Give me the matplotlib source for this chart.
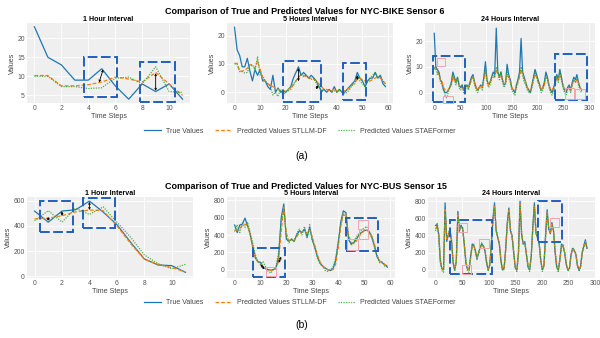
import numpy as np
import matplotlib
matplotlib.use("Agg")
import matplotlib.pyplot as plt
from matplotlib.patches import Rectangle

plt.rcParams['font.family'] = ['Liberation Sans', 'DejaVu Sans']

# --- NYC-BIKE Sensor 6 ---
# 5-hour horizon, 60 steps (the 1-hour panel shows the first 12)
bike_true_5h = [23, 15, 13, 9, 9, 12, 7.5, 4, 8, 6, 8, 4,
                4, 2, 1, 6, 0, 1.5, 0, 0.5, 0, 1, 2, 5,
                7, 9, 6, 7, 6, 5, 6, 5, 4, 2, 0.5, 1,
                0, 1, 0, 2, 0, 1, 0, 0, 1, 2, 3, 4,
                7, 5, 4, 2, 4, 5, 5, 7, 5, 6, 3, 2]
bike_stllm_5h = [10.2, 10.2, 7.5, 7.5, 7.8, 8.5, 9.8, 9.3, 8.5, 11, 8, 5,
                 4, 3, 2.5, 2, 1.5, 1, 0.5, 0.5, 0.5, 1, 1.5, 2.5,
                 4, 5.5, 6, 6, 5.5, 5, 5, 4.5, 4, 3, 2, 1,
                 1, 0.5, 0.5, 1, 0.5, 0.5, 0.5, 0.5, 1, 1.5, 2.5, 3.5,
                 4.5, 5, 4.5, 4, 3.5, 4, 4.5, 5, 5.5, 5, 4, 3]
bike_stae_5h = [10, 10, 7.3, 7.3, 6.8, 7, 9.5, 9.8, 8, 12.5, 6, 5.8,
                4, 3, 2, -1, 0, -1.5, 1, -1, 0, 0.5, 1, 3,
                4, 5, 6.5, 5.5, 6, 5, 4.5, 5, 3, 2, 0, 1,
                0, 1, 0, 0.5, 0, 1, 0, -0.5, 0, 1, 2.5, 3,
                6, 4, 3, 2, 3.5, 5, 6, 7, 5, 6, 4, 3]

# 24-hour horizon, read every 3rd step (0..285)
bike_true_24h = [23, 10, 9, 8, 5, 4, 1, 0, 0, 1, 2, 4,
                 8, 6, 4, 6, 3, 2, 3, 1, 2, 3, 2, 4,
                 6, 7, 4, 2, 1, 2, 3, 2, 6, 12, 5, 3,
                 4, 6, 8, 7, 25, 8, 6, 8, 5, 3, 4, 11,
                 7, 5, 2, 1, 0, 3, 5, 8, 21, 8, 6, 4,
                 2, 1, 0, 3, 6, 9, 7, 5, 3, 1, 2, 4,
                 8, 6, 3, 1, 0, 2, 4, 7, 5, 9, 6, 3,
                 1, 0, 2, 3, 1, 4, 6, 5, 7, 4, 2, 1]
bike_stllm_24h = [10, 9, 8, 7, 5, 4, 2, 1, 0.5, 1, 2, 3,
                  6, 5, 4, 5, 3, 2, 2, 1, 2, 3, 2, 3,
                  5, 6, 4, 2, 1, 2, 3, 2, 5, 8, 5, 3,
                  4, 5, 6, 6, 9, 7, 6, 7, 5, 3, 4, 7,
                  6, 5, 2, 1, 1, 2, 4, 6, 9, 7, 5, 4,
                  2, 1, 1, 2, 5, 7, 6, 4, 3, 1, 2, 3,
                  6, 5, 3, 1, 1, 2, 3, 6, 5, 7, 5, 3,
                  1, 1, 2, 2, 1, 3, 5, 4, 5, 4, 2, 1]
bike_stae_24h = [9, 10, 7, 8, 4, 3, 1, -1, -2, 0, 2, 3,
                 7, 5, 3, 6, 2, 1, 3, 0, 1, 3, 1, 3,
                 6, 6, 3, 1, 0, 2, 2, 1, 6, 9, 4, 2,
                 3, 6, 7, 6, 10, 8, 5, 8, 4, 2, 3, 8,
                 6, 4, 1, 0, -1, 2, 5, 7, 10, 7, 4, 3,
                 1, 0, 0, 2, 5, 8, 6, 4, 2, 0, 1, 3,
                 7, 5, 2, 0, -1, 1, 3, 7, 4, 8, 5, 2,
                 0, -1, 1, 2, 0, 3, 5, 4, 6, 3, 1, 0]

# --- NYC-BUS Sensor 15 ---
bus_true_5h = [517, 429, 517, 527, 596, 509, 410, 270, 138, 90, 85, 32,
               10, 0, -5, 0, 20, 150, 600, 760, 350, 330, 350, 330,
               400, 450, 430, 470, 380, 490, 350, 250, 150, 80, 40, 20,
               0, -10, 10, 100, 300, 550, 680, 660, 350, 300, 310, 350,
               400, 430, 450, 460, 440, 380, 280, 150, 100, 80, 60, 30]
bus_stllm_5h = [455, 460, 480, 510, 525, 520, 400, 260, 135, 95, 70, 35,
                15, 0, -10, -5, 10, 100, 450, 720, 420, 340, 340, 340,
                380, 430, 440, 450, 420, 460, 380, 270, 170, 90, 40, 15,
                0, -10, 0, 60, 250, 500, 650, 640, 400, 320, 300, 330,
                380, 420, 450, 460, 440, 390, 300, 170, 100, 80, 60, 40]
bus_stae_5h = [440, 520, 430, 540, 490, 550, 430, 310, 170, 100, 60, 95,
               30, -20, -40, 10, 40, 200, 550, 700, 380, 310, 360, 320,
               420, 470, 400, 500, 360, 520, 330, 280, 130, 60, 50, -10,
               -20, 0, 30, 130, 320, 520, 640, 620, 380, 280, 320, 380,
               420, 460, 480, 500, 430, 360, 260, 170, 80, 90, 40, 50]

bus_true_24h = [517, 527, 410, 90, 10, 0, 780, 330, 400, 470, 350, 80,
                0, 100, 680, 450, 520, 480, 300, 80, 10, 0, 150, 300,
                280, 220, 120, 200, 260, 300, 280, 220, 80, 0, 60, 300,
                600, 780, 450, 380, 300, 100, 0, 20, 250, 550, 720, 450,
                400, 200, 20, 0, 200, 800, 400, 300, 320, 180, 30, 0,
                150, 500, 780, 420, 380, 300, 100, 0, 50, 400, 700, 480,
                420, 550, 450, 200, 30, 0, 120, 300, 280, 200, 60, 0,
                20, 180, 250, 230, 180, 50, 0, 40, 200, 280, 350, 250]
bus_stllm_24h = [470, 510, 420, 110, 20, 0, 700, 360, 400, 450, 340, 90,
                 10, 90, 640, 470, 500, 470, 310, 100, 20, 0, 130, 280,
                 280, 230, 140, 190, 250, 290, 280, 230, 100, 10, 50, 280,
                 570, 740, 470, 390, 300, 120, 10, 20, 230, 520, 690, 460,
                 390, 210, 40, 0, 180, 760, 420, 310, 310, 190, 50, 10,
                 140, 470, 740, 440, 380, 300, 120, 10, 40, 380, 670, 490,
                 420, 530, 450, 220, 50, 0, 110, 280, 270, 200, 70, 10,
                 20, 170, 240, 230, 180, 60, 10, 40, 190, 270, 330, 250]
bus_stae_24h = [450, 540, 390, 130, -10, -30, 680, 380, 420, 480, 330, 100,
                -20, 80, 620, 500, 480, 500, 290, 120, -20, -30, 170, 260,
                300, 200, 150, 180, 270, 320, 250, 240, 110, -20, 40, 310,
                560, 720, 480, 370, 320, 130, -10, 0, 220, 530, 670, 480,
                370, 230, 30, -30, 170, 740, 440, 290, 330, 170, 60, -20,
                160, 460, 730, 460, 360, 320, 120, -20, 60, 370, 660, 470,
                440, 510, 470, 230, 40, -30, 130, 270, 290, 190, 80, -20,
                0, 160, 260, 210, 190, 40, -20, 30, 210, 260, 320, 240]

steps_1h = np.arange(12)
steps_5h = np.arange(60)
steps_24h = np.arange(0, 288, 3)

# highlight regions (x0, x1, y0, y1) and arrows (x0, y0, x1, y1)
bike_boxes = [[(3.65, 6.15, 4.6, 15.2), (7.85, 10.4, 3.2, 13.7)],
              [(19.1, 33.7, -3.5, 10.9), (42.5, 51.3, -2.6, 10.4)],
              [(-3, 59.5, -3.8, 14.1), (233, 296, -2.8, 15.1)]]
bike_pink = [[], [], [(6, 21, 10.3, 13.6), (17, 36, -4.1, -1.3),
                      (253, 271, -2.6, 1.7), (273, 291, -2.6, 1.5)]]
bike_arrows = [[(4.8, 8.4, 5.1, 11.8), (9, 6.2, 9, 10.8)],
               [(25, 3.9, 25, 8.5), (32, 1, 32.5, 2.5), (48, 4.3, 48, 6)],
               []]
bus_boxes = [[(0.4, 2.8, 355, 596), (3.5, 5.85, 379, 623)],
             [(7, 19.3, -88, 250), (43, 55.2, 218, 600)],
             [(27, 107, -44, 578), (192, 238, 325, 800)]]
bus_pink = [[], [(12, 15.8, -69, 27), (43.3, 47.5, 226, 352), (48, 51.7, 352, 467),
                 (47.5, 51.5, 467, 571)],
            [(43, 59, 438, 546), (81, 100, 257, 357), (49, 66, -44, 56), (215, 232, 498, 598)]]
bus_arrows = [[(1, 440, 1, 470), (2, 478, 2, 515), (4, 525, 4, 590)],
              [(10, 60, 11.5, 5), (17, 80, 18, 150)],
              []]

C_TRUE, C_STLLM, C_STAE = '#1f77b4', '#ff7f0e', '#2ca02c'
BOX = '#2060bd'


def draw_panel(ax, x, yt, yo, yg, title, xticks, yticks, ylim, boxes, pink, arrows):
    ax.set_facecolor('#efefef')
    for s in ax.spines.values():
        s.set_visible(False)
    ax.grid(True, color='white', lw=0.6)
    ax.set_axisbelow(True)
    ax.plot(x, yt, color=C_TRUE, lw=0.9, label='True Values')
    ax.plot(x, yo, color=C_STLLM, lw=0.9, ls=(0, (3, 1.5)), label='Predicted Values STLLM-DF')
    ax.plot(x, yg, color=C_STAE, lw=0.9, ls=(0, (1, 1)), alpha=0.8, label='Predicted Values STAEFormer')
    for (x0, x1, y0, y1) in boxes:
        ax.add_patch(Rectangle((x0, y0), x1 - x0, y1 - y0, fill=False, ec=BOX, lw=1.4,
                               ls=(0, (5, 1.8)), zorder=5, clip_on=False))
    for (x0, x1, y0, y1) in pink:
        ax.add_patch(Rectangle((x0, y0), x1 - x0, y1 - y0, fill=False, ec='#f2a3ae', lw=0.7,
                               zorder=5, clip_on=False))
    for (x0, y0, x1, y1) in arrows:
        ax.annotate('', xy=(x1, y1), xytext=(x0, y0),
                    arrowprops=dict(arrowstyle='<->', color='black', lw=0.6,
                                    mutation_scale=3, shrinkA=0, shrinkB=0), zorder=6)
    ax.set_xticks(xticks)
    ax.set_yticks(yticks)
    ax.set_ylim(*ylim)
    ax.tick_params(length=0, labelsize=4.9, labelcolor='#555555', pad=1.5)
    ax.set_title(title, fontsize=5.1, fontweight='bold', pad=1.5)
    ax.set_xlabel('Time Steps', fontsize=5.1, color='#444444', labelpad=1)
    ax.set_ylabel('Values', fontsize=5.1, color='#444444', labelpad=1)


fig = plt.figure(figsize=(6, 3.38), dpi=100)

row_a = [(0.045, 0.6953, 0.2717, 0.2367), (0.3783, 0.6953, 0.2767, 0.2367),
         (0.7083, 0.6953, 0.2833, 0.2367)]
row_b = [(0.045, 0.1775, 0.2767, 0.2396), (0.3783, 0.1775, 0.28, 0.2396),
         (0.7133, 0.1775, 0.2783, 0.2396)]
titles = ['1 Hour Interval', '5 Hours Interval', '24 Hours Interval']

bike_data = [(steps_1h, bike_true_5h[:12], bike_stllm_5h[:12], bike_stae_5h[:12]),
             (steps_5h, bike_true_5h, bike_stllm_5h, bike_stae_5h),
             (steps_24h, bike_true_24h, bike_stllm_24h, bike_stae_24h)]
bus_data = [(steps_1h, bus_true_5h[:12], bus_stllm_5h[:12], bus_stae_5h[:12]),
            (steps_5h, bus_true_5h, bus_stllm_5h, bus_stae_5h),
            (steps_24h, bus_true_24h, bus_stllm_24h, bus_stae_24h)]
bike_xt = [range(0, 11, 2), range(0, 61, 10), range(0, 301, 50)]
bike_yt = [[5, 10, 15, 20], [0, 10, 20], [0, 10, 20]]
bike_yl = [(3, 24), (-3.8, 24.5), (-4, 27)]
bus_yt = [range(0, 601, 200), range(0, 801, 200), range(0, 801, 200)]
bus_yl = [(-13, 628), (-96, 840), (-96, 848)]

axes_a = []
for i in range(3):
    ax = fig.add_axes(row_a[i])
    draw_panel(ax, *bike_data[i], titles[i], bike_xt[i], bike_yt[i], bike_yl[i],
               bike_boxes[i], bike_pink[i], bike_arrows[i])
    axes_a.append(ax)
for i in range(3):
    ax = fig.add_axes(row_b[i])
    draw_panel(ax, *bus_data[i], titles[i], bike_xt[i], bus_yt[i], bus_yl[i],
               bus_boxes[i], bus_pink[i], bus_arrows[i])

fig.text(0.508, 0.9645, 'Comparison of True and Predicted Values for NYC-BIKE Sensor 6',
         ha='center', va='center', fontsize=6.5, fontweight='bold')
fig.text(0.51, 0.4497, 'Comparison of True and Predicted Values for NYC-BUS Sensor 15',
         ha='center', va='center', fontsize=6.5, fontweight='bold')

handles, labels = axes_a[0].get_legend_handles_labels()
for yy in (0.6124, 0.1036):
    leg = fig.legend(handles, labels, loc='center', bbox_to_anchor=(0.5, yy), ncol=3,
                     frameon=False, fontsize=5, handlelength=2.4, columnspacing=1.6,
                     handletextpad=0.8)
    for t in leg.get_texts():
        t.set_color('#444444')

fig.text(0.503, 0.5385, '(a)', ha='center', va='center', fontsize=7.5)
fig.text(0.503, 0.0385, '(b)', ha='center', va='center', fontsize=7.5)

fig.savefig('out.png', dpi=100)
